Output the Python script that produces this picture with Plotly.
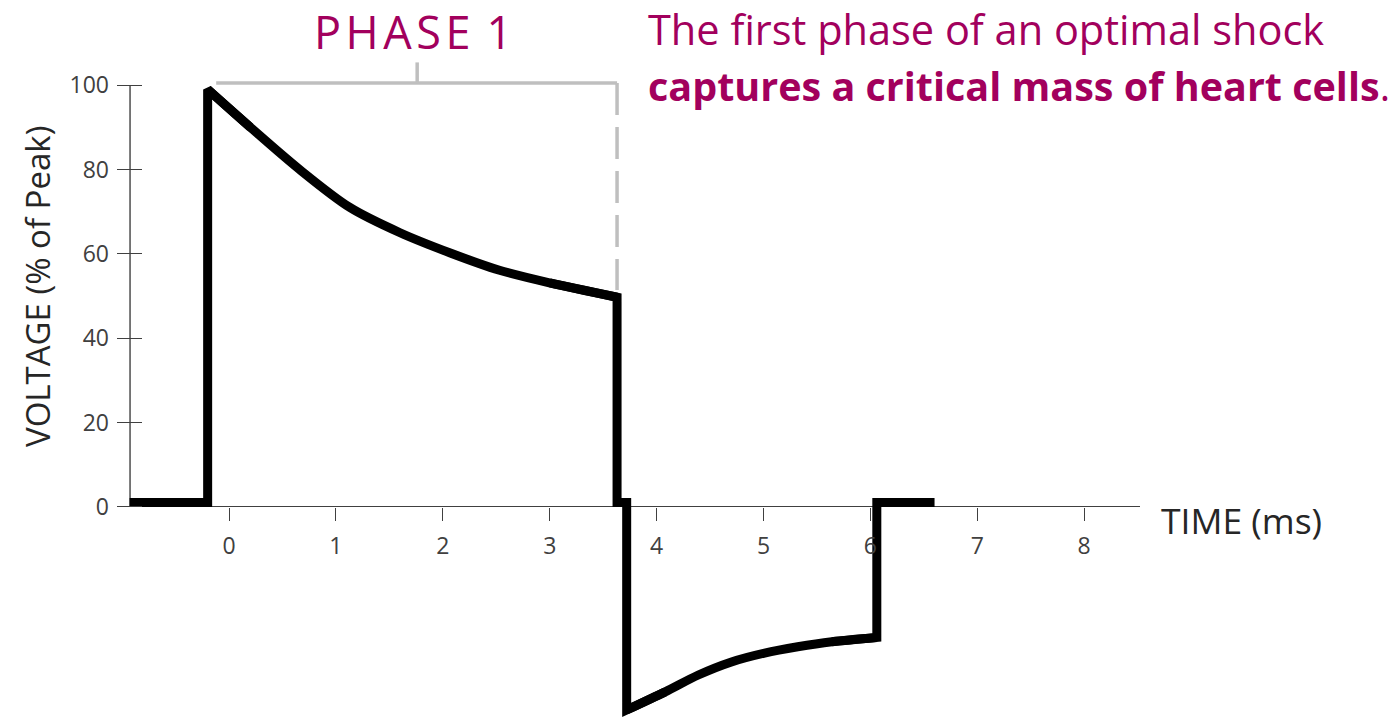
import plotly.graph_objects as go

# Biphasic shock waveform: time (ms) and voltage (% of peak)
time_ms = [-0.93, -0.2, -0.2, 0.2, 0.66, 1.13, 1.6, 2.07, 2.53, 3.0, 3.63,
           3.63, 3.72, 3.72, 4.08, 4.39, 4.7, 5.01, 5.32, 5.64, 6.06,
           6.06, 6.6]
voltage_pct = [1, 1, 99, 90, 80, 71, 65, 60.2, 56.1, 53.1, 49.7,
               1, 1, -48.2, -43.9, -39.9, -36.8, -34.7, -33.2, -32.0, -31.0,
               1, 1]

# index ranges: the two decays (smooth) and the straight edges around them
phase1_decay = slice(2, 11)
phase2_decay = slice(13, 21)
edges = [slice(0, 4), slice(9, 15), slice(19, 23)]

x_ticks = [0, 1, 2, 3, 4, 5, 6, 7, 8]
y_ticks = [0, 20, 40, 60, 80, 100]

# Phase 1 bracket
phase1_start = -0.12
phase1_end = 3.63
phase1_mid = 1.76
bracket_level = 100.5
bracket_stem_top = 105.4
phase1_end_voltage = 51.4

W, H = 1394, 718
MAGENTA = "#A2005D"
AXIS = "#404040"
GRAY = "#BFBFBF"
FONT = "Open Sans"

X_RANGE = [-1.048, 8.522]
Y_RANGE = [-50.1, 120.2]
Y_AXIS_AT = -0.926


def px(x):
    return x / W


def py(y):
    return 1 - y / H


fig = go.Figure()

for sl in edges:
    fig.add_trace(go.Scatter(
        x=time_ms[sl], y=voltage_pct[sl], mode="lines",
        line=dict(color="black", width=9),
        hoverinfo="skip", showlegend=False,
    ))
for sl in (phase1_decay, phase2_decay):
    fig.add_trace(go.Scatter(
        x=time_ms[sl], y=voltage_pct[sl], mode="lines",
        line=dict(color="black", width=9, shape="spline", smoothing=0.9),
        hoverinfo="skip", showlegend=False,
    ))

shapes = [
    # vertical axis line (0 to 100 %)
    dict(type="line", xref="x", yref="y", x0=Y_AXIS_AT, x1=Y_AXIS_AT, y0=0, y1=100,
         line=dict(color=AXIS, width=1.4), layer="below"),
    # bracket over phase 1
    dict(type="line", xref="x", yref="y", x0=phase1_start, x1=phase1_end,
         y0=bracket_level, y1=bracket_level, line=dict(color=GRAY, width=3.5)),
    dict(type="line", xref="x", yref="y", x0=phase1_mid, x1=phase1_mid,
         y0=bracket_level, y1=bracket_stem_top, line=dict(color=GRAY, width=3.5)),
    dict(type="line", xref="x", yref="y", x0=phase1_end, x1=phase1_end,
         y0=bracket_level, y1=phase1_end_voltage,
         line=dict(color=GRAY, width=3.5, dash="32px,12px")),
]

annotations = [
    dict(text="P\u200aH\u200aA\u200aS\u200aE \u200a1", x=px(413), y=py(32),
         xref="paper", yref="paper", xanchor="center", yanchor="middle",
         showarrow=False, font=dict(family=FONT, size=45, color=MAGENTA)),
    dict(text="The first phase of an optimal shock", x=px(646), y=py(29),
         xref="paper", yref="paper", xanchor="left", yanchor="middle",
         showarrow=False, font=dict(family=FONT, size=41.5, color=MAGENTA)),
    dict(text="<b>captures a critical mass of heart cells</b>.", x=px(646), y=py(86),
         xref="paper", yref="paper", xanchor="left", yanchor="middle",
         showarrow=False, font=dict(family=FONT, size=39.5, color=MAGENTA)),
    dict(text="VOLTAGE (% of Peak)", x=px(38), y=py(287), textangle=-90,
         xref="paper", yref="paper", xanchor="center", yanchor="middle",
         showarrow=False, font=dict(family=FONT, size=33, color="#262626")),
    dict(text="TIME (ms)", x=px(1159), y=py(520),
         xref="paper", yref="paper", xanchor="left", yanchor="middle",
         showarrow=False, font=dict(family=FONT, size=35.5, color="#262626")),
]

fig.update_layout(
    width=W, height=H,
    margin=dict(l=0, r=0, t=0, b=0),
    paper_bgcolor="white", plot_bgcolor="white",
    shapes=shapes, annotations=annotations,
    xaxis=dict(
        domain=[px(117), px(1140)], range=X_RANGE,
        anchor="free", position=py(506.7),
        tickmode="array", tickvals=x_ticks,
        ticks="outside", ticklen=13, tickwidth=1.4, tickcolor=AXIS,
        ticklabelstandoff=6,
        showgrid=False, zeroline=False, showline=False,
        tickfont=dict(family=FONT, size=23, color=AXIS),
        fixedrange=True,
    ),
    yaxis=dict(
        domain=[0, 1], range=Y_RANGE, anchor="x",
        tickmode="array", tickvals=y_ticks,
        ticks="inside", ticklen=25, tickwidth=1.4, tickcolor=AXIS,
        ticklabelstandoff=7,
        showgrid=False, showline=False,
        zeroline=True, zerolinecolor=AXIS, zerolinewidth=1.4,
        tickfont=dict(family=FONT, size=23, color=AXIS),
        fixedrange=True,
    ),
)

fig.write_html("out.html", config=dict(displayModeBar=False))
